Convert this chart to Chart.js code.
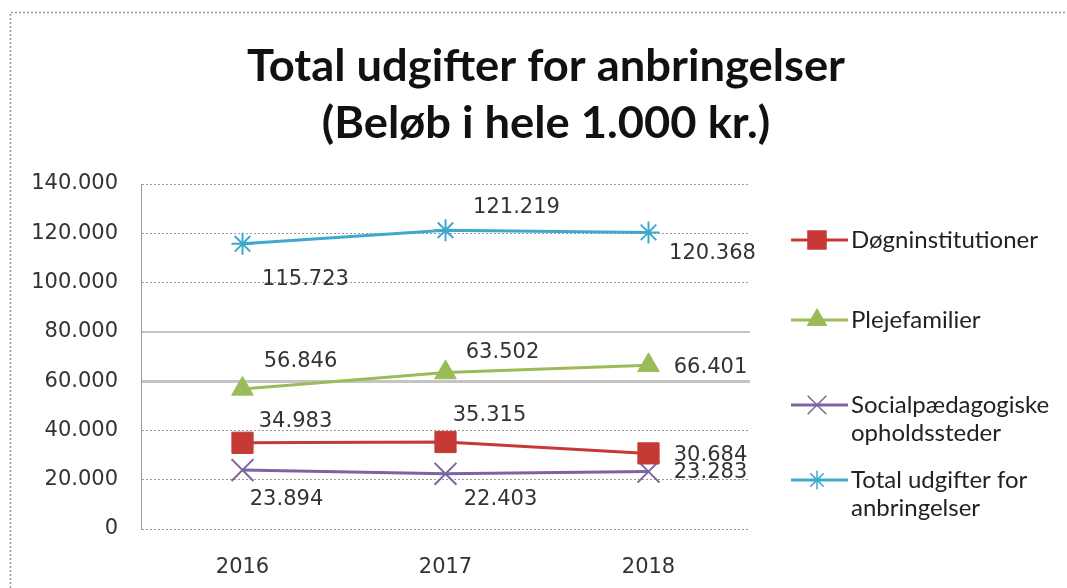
<!DOCTYPE html>
<html><head><meta charset="utf-8">
<script src="https://cdn.jsdelivr.net/npm/chart.js@4.4.1/dist/chart.umd.min.js"></script>
<style>html,body{margin:0;padding:0;background:#fff}#wrap{width:1067px;height:588px;position:relative}</style>
</head><body><div id="wrap"><canvas id="c" width="1067" height="588"></canvas></div>
<script>
const titleLines = ["Total udgifter for anbringelser", "(Beløb i hele 1.000 kr.)"];
const categories = ["2016", "2017", "2018"];
const seriesNames = ["Døgninstitutioner", "Plejefamilier", "Socialpædagogiske opholdssteder", "Total udgifter for anbringelser"];
const legendLines = [["Døgninstitutioner"], ["Plejefamilier"], ["Socialpædagogiske", "opholdssteder"], ["Total udgifter for", "anbringelser"]];
const doegn = [34983, 35315, 30684];
const pleje = [56846, 63502, 66401];
const social = [23894, 22403, 23283];
const total = [115723, 121219, 120368];
const yTicks = [0, 20000, 40000, 60000, 80000, 100000, 120000, 140000];
// label offsets (dx, dy) relative to each point
const labelOffsets = [
  [[53,-21],[44,-26],[62,2]],
  [[58,-27],[57,-20],[62,2]],
  [[44,29],[55,26],[62,1]],
  [[63,36],[71,-23],[64,21]]
];
const colors = ["#C63A36", "#9BBB59", "#7F63A1", "#3FA9CC"];
const markers = ["rect", "triangle", "crossRot", "star"];
const markerRadius = [15, 12.5, 15.5, 11];
const fmt = v => String(v).replace(/\B(?=(\d{3})+(?!\d))/g, ".");

const NUM_FONT = "'DejaVu Sans', sans-serif";
const TXT_FONT = "Lato, sans-serif";

const frame = {
  id: 'frame',
  beforeDraw(chart) {
    const ctx = chart.ctx;
    ctx.save();
    ctx.strokeStyle = '#999';
    ctx.lineWidth = 1.5;
    ctx.setLineDash([2, 2]);
    ctx.beginPath();
    ctx.moveTo(10.5, 588); ctx.lineTo(10.5, 12.5); ctx.lineTo(1067, 12.5);
    ctx.stroke();
    ctx.restore();
  }
};

const titlePlugin = {
  id: 'customTitle',
  afterDraw(chart) {
    const ctx = chart.ctx;
    ctx.save();
    ctx.font = "bold 44px " + TXT_FONT;
    ctx.fillStyle = '#111';
    ctx.textAlign = 'center';
    ctx.textBaseline = 'alphabetic';
    const w = ctx.measureText(titleLines[0]).width;
    const sx = 598 / w;
    const baselines = [81, 138];
    titleLines.forEach((t, i) => {
      ctx.save();
      ctx.translate(546, baselines[i]);
      ctx.scale(sx, 1);
      ctx.fillText(t, 0, 0);
      ctx.restore();
    });
    ctx.restore();
  }
};

const dataLabels = {
  id: 'dataLabels',
  afterDatasetsDraw(chart) {
    const ctx = chart.ctx;
    ctx.save();
    ctx.font = "21px " + NUM_FONT;
    ctx.fillStyle = '#333';
    ctx.textAlign = 'center';
    ctx.textBaseline = 'middle';
    chart.data.datasets.forEach((ds, i) => {
      const meta = chart.getDatasetMeta(i);
      meta.data.forEach((pt, j) => {
        const o = labelOffsets[i][j];
        ctx.fillText(fmt(ds.data[j]), pt.x + o[0], pt.y + o[1]);
      });
    });
    ctx.restore();
  }
};

const legendPlugin = {
  id: 'customLegend',
  afterDraw(chart) {
    const ctx = chart.ctx;
    const rowsY = [240, 320, 405, 480];
    ctx.save();
    chart.data.datasets.forEach((ds, i) => {
      const y = rowsY[i];
      ctx.strokeStyle = ds.borderColor;
      ctx.lineWidth = 3;
      ctx.beginPath(); ctx.moveTo(791, y); ctx.lineTo(848, y); ctx.stroke();
      ctx.fillStyle = ds.backgroundColor;
      ctx.strokeStyle = ds.borderColor;
      ctx.lineWidth = 1.5;
      Chart.helpers.drawPoint(ctx, {pointStyle: ds.pointStyle, radius: ds.pointRadius * 0.85, borderWidth: 1.5, rotation: 0}, 817, y);
      ctx.fillStyle = '#222';
      ctx.font = "24px " + TXT_FONT;
      ctx.textAlign = 'left';
      ctx.textBaseline = 'middle';
      legendLines[i].forEach((t, k) => ctx.fillText(t, 851, y + k * 28));
    });
    ctx.restore();
  }
};

const datasets = [doegn, pleje, social, total].map((d, i) => ({
  label: seriesNames[i],
  data: d,
  borderColor: colors[i],
  backgroundColor: colors[i],
  borderWidth: 3,
  pointStyle: markers[i],
  pointRadius: markerRadius[i],
  pointHoverRadius: markerRadius[i],
  pointBorderWidth: i >= 2 ? 2 : 1,
  tension: 0
}));

new Chart(document.getElementById('c'), {
  type: 'line',
  data: { labels: categories, datasets },
  plugins: [frame, titlePlugin, dataLabels, legendPlugin],
  options: {
    responsive: false,
    animation: false,
    layout: { padding: { left: 0, right: 317, top: 184, bottom: 0 } },
    plugins: {
      legend: { display: false },
      tooltip: { enabled: false },
      title: { display: false }
    },
    scales: {
      x: {
        offset: true,
        grid: { display: false, drawTicks: false },
        border: { display: false },
        ticks: { color: '#333', padding: 26, font: { family: NUM_FONT, size: 21 } },
        afterFit(s) { s.height = 59; }
      },
      y: {
        min: 0, max: 140000,
        afterBuildTicks(s) { s.ticks = yTicks.map(v => ({ value: v })); },
        afterFit(s) { s.width = 141; },
        grid: {
          drawTicks: false,
          color: c => (c.tick && (c.tick.value === 60000 || c.tick.value === 80000)) ? '#c4c4c4' : '#9a9a9a',
          lineWidth: c => (c.tick && c.tick.value === 60000) ? 3 : (c.tick && c.tick.value === 80000 ? 2 : 1)
        },
        border: {
          display: true, color: '#9a9a9a', width: 1,
          dash: c => (c.tick && (c.tick.value === 60000 || c.tick.value === 80000)) ? [] : [2, 2]
        },
        ticks: { color: '#333', padding: 23, font: { family: NUM_FONT, size: 21 }, callback: v => fmt(v) }
      }
    }
  }
});
</script></body></html>
